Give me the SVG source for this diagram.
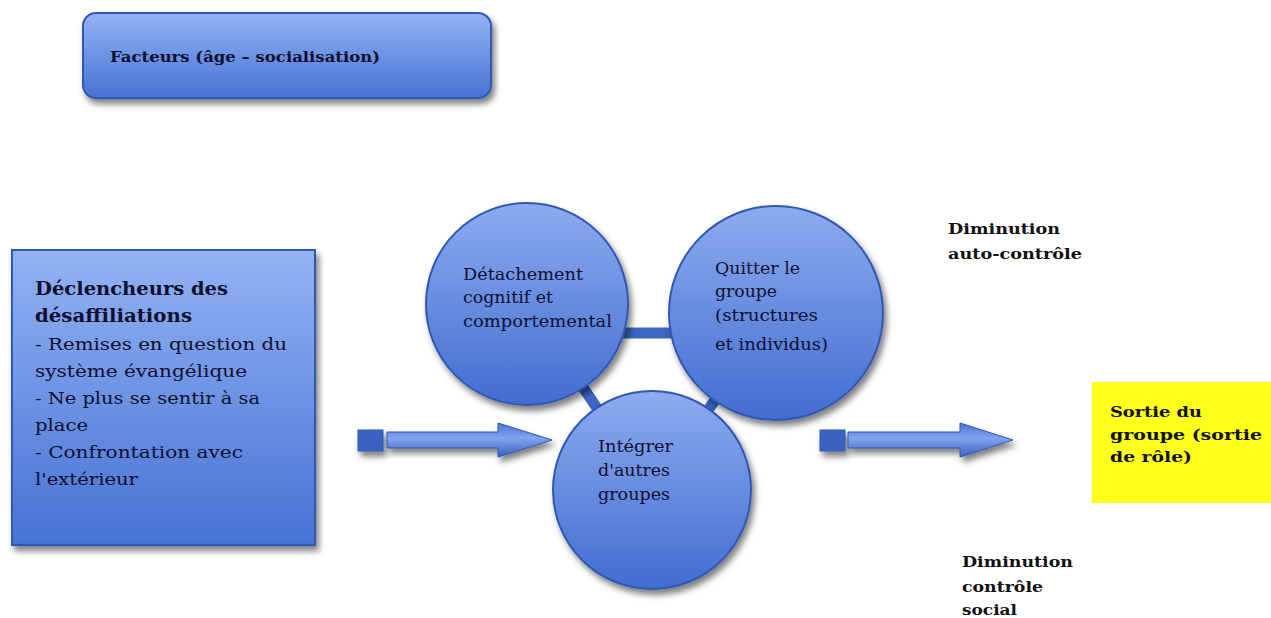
<svg xmlns="http://www.w3.org/2000/svg" width="1271" height="618" viewBox="0 0 1271 618">
<defs>
<linearGradient id="gBox" x1="0" y1="0" x2="0" y2="1">
<stop offset="0" stop-color="#94b3f4"/>
<stop offset="1" stop-color="#4672d4"/>
</linearGradient>
<linearGradient id="gCirc" x1="0" y1="0" x2="0" y2="1">
<stop offset="0" stop-color="#8dabf0"/>
<stop offset="1" stop-color="#426dd0"/>
</linearGradient>
<linearGradient id="gArr" x1="0" y1="0" x2="0" y2="1">
<stop offset="0" stop-color="#4a72d0"/>
<stop offset="0.45" stop-color="#82a3ee"/>
<stop offset="1" stop-color="#3a61c0"/>
</linearGradient>
<filter id="sh" x="-20%" y="-20%" width="150%" height="160%">
<feDropShadow dx="3" dy="5" stdDeviation="3" flood-color="#000" flood-opacity="0.5"/>
</filter>
</defs>
<style>
.shape{stroke:#2f58b4;stroke-width:2;filter:url(#sh)}
.bar{stroke:#3d65c4;stroke-width:11;fill:none}
.t{font-family:"DejaVu Serif","Liberation Serif",serif;fill:#10102e}
.b{font-weight:bold}
.k{font-family:"DejaVu Serif","Liberation Serif",serif;fill:#111;font-weight:bold}
</style>
<rect width="1271" height="618" fill="#ffffff"/>

<g id="connectors">
<line class="bar" x1="527" y1="304" x2="652" y2="490"/>
<line class="bar" x1="776" y1="313" x2="652" y2="490"/>
<line class="bar" x1="600" y1="333" x2="700" y2="333"/>
<g id="arrow1" filter="url(#sh)">
<rect x="358" y="430" width="25" height="21" fill="#3b62c2" stroke="#2f58b4"/>
<path d="M387,432 H498 V423 L552,440 L498,457 V448 H387 Z" fill="url(#gArr)" stroke="#2f58b4"/>
</g>
<g id="arrow2" filter="url(#sh)">
<rect x="820" y="430" width="25" height="21" fill="#3b62c2" stroke="#2f58b4"/>
<path d="M848,432 H960 V423 L1013,440 L960,457 V448 H848 Z" fill="url(#gArr)" stroke="#2f58b4"/>
</g>
</g>

<g id="facteurs">
<rect class="shape" x="83" y="13" width="408" height="85" rx="13" fill="url(#gBox)"/>
<text class="t b" x="110" y="62" font-size="15" textLength="270" lengthAdjust="spacingAndGlyphs">Facteurs (âge – socialisation)</text>
</g>

<g id="declencheurs">
<rect class="shape" x="12" y="250" width="303" height="295" fill="url(#gBox)"/>
<text class="t b" font-size="18" x="35" y="295" textLength="193" lengthAdjust="spacingAndGlyphs">Déclencheurs des</text>
<text class="t b" font-size="18" x="35" y="322" textLength="157" lengthAdjust="spacingAndGlyphs">désaffiliations</text>
<text class="t" font-size="17" x="35" y="350" textLength="252" lengthAdjust="spacingAndGlyphs">- Remises en question du</text>
<text class="t" font-size="17" x="35" y="377" textLength="212" lengthAdjust="spacingAndGlyphs">système évangélique</text>
<text class="t" font-size="17" x="35" y="404" textLength="225" lengthAdjust="spacingAndGlyphs">- Ne plus se sentir à sa</text>
<text class="t" font-size="17" x="35" y="431" textLength="53" lengthAdjust="spacingAndGlyphs">place</text>
<text class="t" font-size="17" x="35" y="458" textLength="208" lengthAdjust="spacingAndGlyphs">- Confrontation avec</text>
<text class="t" font-size="17" x="35" y="485" textLength="103" lengthAdjust="spacingAndGlyphs">l'extérieur</text>
</g>

<g id="detachement">
<circle class="shape" cx="527" cy="304" r="101" fill="url(#gCirc)"/>
<text class="t" font-size="16" x="463" y="280" textLength="120" lengthAdjust="spacingAndGlyphs">Détachement</text>
<text class="t" font-size="16" x="463" y="303" textLength="90" lengthAdjust="spacingAndGlyphs">cognitif et</text>
<text class="t" font-size="16" x="463" y="327" textLength="149" lengthAdjust="spacingAndGlyphs">comportemental</text>
</g>

<g id="quitter">
<circle class="shape" cx="776" cy="313" r="107" fill="url(#gCirc)"/>
<text class="t" font-size="16" x="715" y="274" textLength="85" lengthAdjust="spacingAndGlyphs">Quitter le</text>
<text class="t" font-size="16" x="715" y="297" textLength="62" lengthAdjust="spacingAndGlyphs">groupe</text>
<text class="t" font-size="16" x="715" y="321" textLength="103" lengthAdjust="spacingAndGlyphs">(structures</text>
<text class="t" font-size="16" x="715" y="350" textLength="113" lengthAdjust="spacingAndGlyphs">et individus)</text>
</g>

<g id="integrer">
<circle class="shape" cx="652" cy="490" r="99" fill="url(#gCirc)"/>
<text class="t" font-size="16" x="598" y="452" textLength="75" lengthAdjust="spacingAndGlyphs">Intégrer</text>
<text class="t" font-size="16" x="598" y="476" textLength="72" lengthAdjust="spacingAndGlyphs">d'autres</text>
<text class="t" font-size="16" x="598" y="500" textLength="72" lengthAdjust="spacingAndGlyphs">groupes</text>
</g>

<g id="auto-controle">
<text class="k" font-size="15" x="948" y="234" textLength="112" lengthAdjust="spacingAndGlyphs">Diminution</text>
<text class="k" font-size="15" x="948" y="259" textLength="134" lengthAdjust="spacingAndGlyphs">auto-contrôle</text>
</g>

<g id="controle-social">
<text class="k" font-size="15" x="962" y="567" textLength="111" lengthAdjust="spacingAndGlyphs">Diminution</text>
<text class="k" font-size="15" x="962" y="592" textLength="81" lengthAdjust="spacingAndGlyphs">contrôle</text>
<text class="k" font-size="15" x="962" y="615" textLength="55" lengthAdjust="spacingAndGlyphs">social</text>
</g>

<g id="sortie">
<rect x="1092" y="382" width="179" height="121" fill="#ffff1e"/>
<text class="k" font-size="15" x="1110" y="417" textLength="92" lengthAdjust="spacingAndGlyphs">Sortie du</text>
<text class="k" font-size="15" x="1110" y="440" textLength="152" lengthAdjust="spacingAndGlyphs">groupe (sortie</text>
<text class="k" font-size="15" x="1110" y="462" textLength="82" lengthAdjust="spacingAndGlyphs">de rôle)</text>
</g>
</svg>
